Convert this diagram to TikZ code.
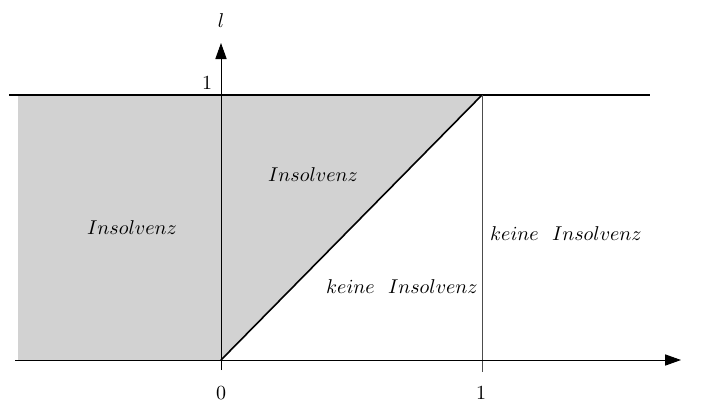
\documentclass[tikz,border=0pt]{standalone}
\usetikzlibrary{arrows.meta}
\begin{document}
\begin{tikzpicture}[x=0.5pt,y=-0.5pt,
  region/.style={font=\normalsize},
  axis/.style={line width=0.45pt,-{Triangle[length=8pt,width=5.6pt]}},
  tick/.style={font=\normalsize}]
\useasboundingbox (0,0) rectangle (701,403);
% coordinates
\coordinate (O) at (221,360);
\coordinate (P) at (482,95);
\coordinate (Q) at (482,372);
\coordinate (Ybot) at (221,370);
\coordinate (Ytop) at (221,43);
\coordinate (Xleft) at (15,360);
\coordinate (Xright) at (681,360);
\coordinate (Tleft) at (9,95);
\coordinate (Tright) at (650,95);
% gray region
\fill[gray!35] (18,96) -- (P) -- (O) -- (18,360) -- cycle;
% lines
\draw[line width=0.9pt] (Tleft) -- (Tright);
\draw[line width=0.8pt] (O) -- (P);
\draw[line width=0.45pt,black!70] (P) -- (Q);
\draw[axis] (Xleft) -- (Xright);
\draw[axis] (Ybot) -- (Ytop);
% labels
\node[tick] (l) at (221,21) {$l$};
\node[tick] (one y) at (207,83) {1};
\node[tick] (zero) at (221,393) {0};
\node[tick] (one x) at (481,393) {1};
\node[region] (r1) at (132,228) {$Insolvenz$};
\node[region] (r2) at (313,175) {$Insolvenz$};
\node[region] (r3) at (402,287) {$keine\ \ Insolvenz$};
\node[region] (r4) at (566,234) {$keine\ \ Insolvenz$};
\end{tikzpicture}
\end{document}
